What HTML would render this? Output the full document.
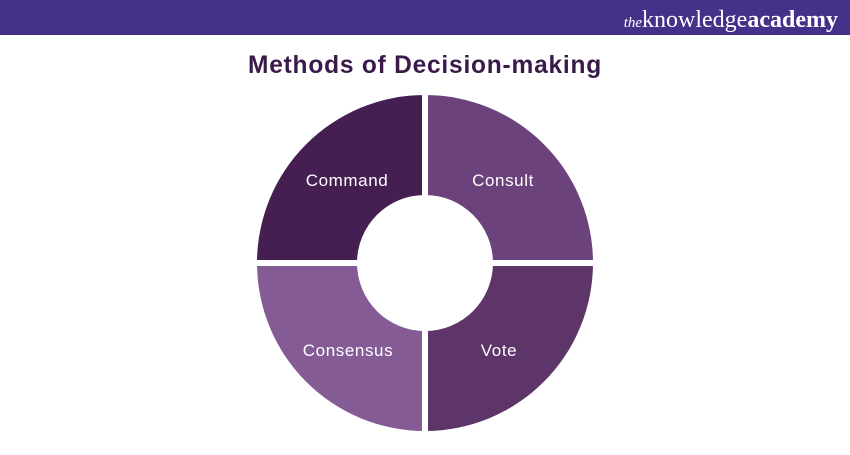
<!DOCTYPE html>
<html><head><meta charset="utf-8"><style>
body{margin:0;width:850px;height:450px;background:#fff;overflow:hidden;font-family:"Liberation Sans",sans-serif}
</style></head><body>
<svg width="850" height="450" viewBox="0 0 850 450" xmlns="http://www.w3.org/2000/svg">
<rect x="0" y="0" width="850" height="35" fill="#45308a"/>
<text x="838" y="27" text-anchor="end" fill="#fff" font-family="Liberation Serif,serif" font-size="24"><tspan font-style="italic" font-size="15">the</tspan>knowledge<tspan font-weight="bold">academy</tspan></text>
<text x="425" y="73" text-anchor="middle" fill="#3a1a4a" font-weight="bold" font-size="25" letter-spacing="0.8" textLength="354" lengthAdjust="spacingAndGlyphs">Methods of Decision-making</text>
<g>
<path d="M425 263 L425 95 A168 168 0 0 0 257 263 Z" fill="#451f52"/>
<path d="M425 263 L425 95 A168 168 0 0 1 593 263 Z" fill="#6b427b"/>
<path d="M425 263 L257 263 A168 168 0 0 0 425 431 Z" fill="#845b95"/>
<path d="M425 263 L593 263 A168 168 0 0 1 425 431 Z" fill="#5e3569"/>
<rect x="422" y="90" width="6" height="345" fill="#fff"/>
<rect x="250" y="260" width="350" height="6" fill="#fff"/>
<circle cx="425" cy="263" r="68" fill="#fff"/>
</g>
<g fill="#fff" font-size="17" text-anchor="middle" letter-spacing="0.6">
<text x="347" y="186">Command</text>
<text x="503" y="186">Consult</text>
<text x="348" y="356">Consensus</text>
<text x="499" y="356">Vote</text>
</g>
</svg>
</body></html>
